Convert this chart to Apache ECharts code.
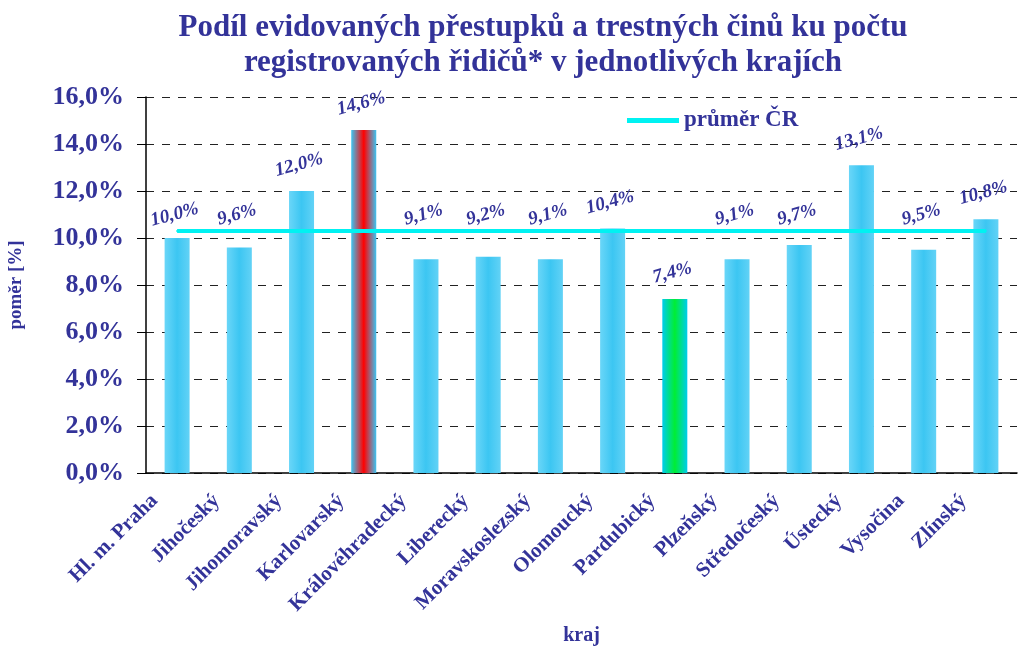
<!DOCTYPE html>
<html>
<head>
<meta charset="utf-8">
<script src="https://cdn.jsdelivr.net/npm/echarts@6/dist/echarts.min.js"></script>
<style>
html,body{margin:0;padding:0;background:#fff}
#graf{width:1019px;height:648px}
</style>
</head>
<body>
<div id="graf"></div>
<script>
// kraje a podíl přestupků na počet řidičů [%]
var kraje = ['Hl. m. Praha','Jihočeský','Jihomoravský','Karlovarský','Královéhradecký','Liberecký','Moravskoslezský','Olomoucký','Pardubický','Plzeňský','Středočeský','Ústecký','Vysočina','Zlínský'];
var podil = [10.0, 9.6, 12.0, 14.6, 9.1, 9.2, 9.1, 10.4, 7.4, 9.1, 9.7, 13.1, 9.5, 10.8];
var prumerCR = 10.3;

var modra = '#333399';
var tyrkys = '#00f2f2';
var pismo = '"Liberation Serif", "Times New Roman", serif';

function carka(v, d) { return v.toFixed(d).replace('.', ',') + '%'; }

// popisky sloupců těsně pod průměrem jsou posazené nad čáru průměru
function podCarou(v) { return v < prumerCR && v > prumerCR - 2; }

var popisek = {
    rotate: 15,
    fontFamily: pismo, fontSize: 19, fontWeight: 'bold', fontStyle: 'italic', color: modra
};

function barva(i) {
    if (kraje[i] === 'Karlovarský') {
        return new echarts.graphic.LinearGradient(0, 0, 1, 0, [
            {offset: 0, color: '#3cc4f2'}, {offset: 0.5, color: '#ff0000'}, {offset: 1, color: '#3cc4f2'}]);
    }
    if (kraje[i] === 'Pardubický') {
        return new echarts.graphic.LinearGradient(0, 0, 1, 0, [
            {offset: 0, color: '#00ccee'}, {offset: 0.5, color: '#00ee33'}, {offset: 1, color: '#00ccee'}]);
    }
    return new echarts.graphic.LinearGradient(0, 0, 1, 0, [
        {offset: 0, color: '#6ad6f8'}, {offset: 0.5, color: '#3cc6f2'}, {offset: 1, color: '#62d2f6'}]);
}

var sloupce = podil.map(function (v, i) {
    return {value: v, itemStyle: {color: barva(i)}, label: {show: !podCarou(v)}};
});
var prumerData = podil.map(function (v) {
    return {value: prumerCR, label: {show: podCarou(v), formatter: carka(v, 1)}};
});

var graf = echarts.init(document.getElementById('graf'));
graf.setOption({
    animation: false,
    title: {
        text: 'Podíl evidovaných přestupků a trestných činů ku počtu\nregistrovaných řidičů* v jednotlivých krajích',
        left: 538, top: 5, textAlign: 'center',
        textStyle: {fontFamily: pismo, fontSize: 31, fontWeight: 'bold', color: modra, lineHeight: 35}
    },
    legend: {
        data: [{name: 'průměr ČR', icon: 'rect'}],
        left: 622, top: 104,
        itemWidth: 52, itemHeight: 5, itemGap: 5,
        textStyle: {fontFamily: pismo, fontSize: 23, fontWeight: 'bold', color: modra}
    },
    grid: {left: 146, right: 2, top: 97, bottom: 175, outerBoundsMode: 'none'},
    xAxis: {
        type: 'category',
        data: kraje,
        name: 'kraj',
        nameLocation: 'middle',
        nameGap: 153,
        nameTextStyle: {fontFamily: pismo, fontSize: 20, fontWeight: 'bold', color: modra},
        axisLine: {lineStyle: {color: '#000', width: 1.5}},
        axisTick: {length: 7, lineStyle: {color: '#000'}},
        axisLabel: {
            interval: 0, rotate: 45, margin: 2, padding: [0, 32, 0, 0],
            fontFamily: pismo, fontSize: 21, fontWeight: 'bold', color: modra
        }
    },
    yAxis: {
        type: 'value',
        min: 0, max: 16, interval: 2,
        name: 'poměr [%]',
        nameLocation: 'middle',
        nameGap: 120,
        nameTextStyle: {fontFamily: pismo, fontSize: 19, fontWeight: 'bold', color: modra},
        axisLine: {show: true, lineStyle: {color: '#000', width: 1.5}},
        axisTick: {show: true, length: 9, lineStyle: {color: '#000'}},
        splitLine: {lineStyle: {color: '#222', type: [8, 8], width: 1}},
        axisLabel: {
            margin: 22,
            fontFamily: pismo, fontSize: 26, fontWeight: 'bold', color: modra,
            formatter: function (v) { return carka(v, 1); }
        }
    },
    series: [{
        type: 'bar',
        data: sloupce,
        barWidth: 25,
        label: Object.assign({
            position: 'top', distance: 17,
            formatter: function (p) { return carka(p.value, 1); }
        }, popisek),
        z: 2
    }, {
        name: 'průměr ČR',
        type: 'line',
        data: prumerData,
        symbol: 'circle',
        symbolSize: 2,
        showSymbol: true,
        lineStyle: {color: tyrkys, width: 4},
        itemStyle: {color: tyrkys},
        label: Object.assign({position: 'top', distance: 6}, popisek),
        z: 3
    }]
});
</script>
</body>
</html>
